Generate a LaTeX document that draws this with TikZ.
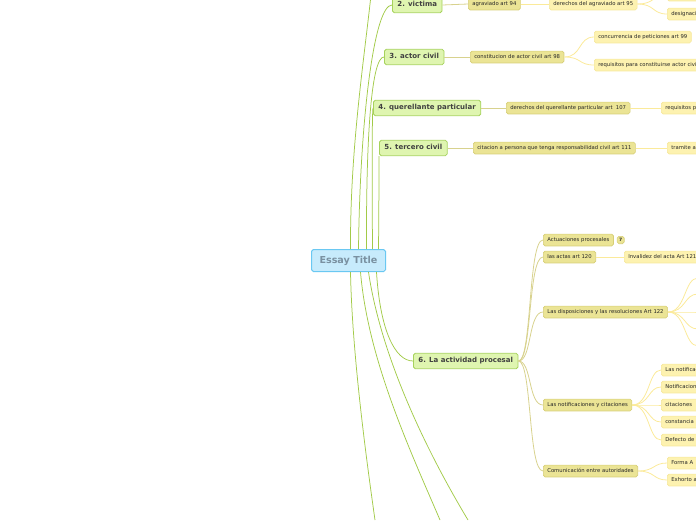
\documentclass[tikz,border=0pt]{standalone}
\usepackage{fontspec}
\setmainfont{DejaVu Sans}
\usetikzlibrary{positioning}
\definecolor{essayfill}{HTML}{C7EBFC}
\definecolor{essayline}{HTML}{6AC8F2}
\definecolor{essaytext}{HTML}{7A91A1}
\definecolor{topicfill}{HTML}{DFF5B0}
\definecolor{topicline}{HTML}{A6D25C}
\definecolor{subfill}{HTML}{EBE495}
\definecolor{subline}{HTML}{D6CE76}
\definecolor{detailfill}{HTML}{FDF2B0}
\definecolor{detailline}{HTML}{F6E79A}
\definecolor{trunkcol}{HTML}{A2CA48}
\definecolor{twigcol}{HTML}{D8D28E}
\definecolor{leafcol}{HTML}{FBEA9A}
\begin{document}
\begin{tikzpicture}[x=1pt, y=-1pt,
  every node/.style={rounded corners=1.8pt, text=black!85},
  essay/.style={draw=essayline, fill=essayfill, line width=1pt, font=\fontsize{9.6}{10}\bfseries, text=essaytext,
    inner xsep=8pt, inner ysep=6.5pt, text height=7pt, text depth=2pt},
  topic/.style={draw=topicline, fill=topicfill, line width=0.8pt, font=\fontsize{7}{8}\bfseries, text=black!75,
    inner xsep=5pt, inner ysep=4.2pt, text height=5.4pt, text depth=1.6pt, anchor=west},
  sub/.style={draw=subline, fill=subfill, line width=0.6pt, font=\fontsize{5.3}{6}\selectfont,
    inner xsep=4pt, inner ysep=3.3pt, text height=4pt, text depth=1.3pt, anchor=west},
  detail/.style={sub, draw=detailline, fill=detailfill},
  cut/.style={detail, text width=70pt, align=left},
  trunk/.style={draw=trunkcol, line width=0.75pt},
  twig/.style={draw=twigcol, line width=0.8pt},
  leaf/.style={draw=leafcol, line width=0.8pt}]
\useasboundingbox (0,0) rectangle (696,520);
\clip (0,0) rectangle (696,520);

% main topics
\node[essay] (essay) at (348.5,260.5) {Essay Title};
\node[topic] (victima) at (392,5) {2. victima};
\node[topic] (actor) at (384,57) {3. actor civil};
\node[topic] (querellante) at (373,108) {4. querellante particular};
\node[topic] (tercero) at (379,148) {5. tercero civil};
\node[topic] (actividad) at (413,361) {6. La actividad procesal};
\coordinate (top1) at (371,-5);
\coordinate (bot7) at (375,520);
\coordinate (bot8) at (440,520);
\coordinate (bot9) at (468,520);

\draw[trunk] ([xshift=2pt]essay.north) .. controls (350,150) and (364,60) .. (top1);
\draw[trunk] ([xshift=10pt]essay.north) .. controls (360,120) and (374,5) .. (victima.west);
\draw[trunk] ([xshift=18pt]essay.north) .. controls (366,130) and (372,57) .. (actor.west);
\draw[trunk] ([xshift=24pt]essay.north) .. controls (372,180) and (372,112) .. (querellante.west);
\draw[trunk] ([xshift=30pt]essay.north) .. controls (379,200) and (379,160) .. (tercero.south west);
\draw[trunk] ([xshift=28pt]essay.south) .. controls (380,330) and (395,361) .. (actividad.west);
\draw[trunk] ([xshift=2pt]essay.south) .. controls (352,350) and (365,450) .. (bot7);
\draw[trunk] ([xshift=12pt]essay.south) .. controls (368,360) and (410,450) .. (bot8);
\draw[trunk] ([xshift=20pt]essay.south) .. controls (380,350) and (420,440) .. (bot9);

% 2. victima
\node[sub] (agraviado) at (468,4) {agraviado art 94};
\node[detail] (dagraviado) at (549,4) {derechos del agraviado art 95};
\node[cut] (dagr1) at (667,-5) {};
\node[cut] (dagr2) at (667,14) {designaci};
\draw[twig] (victima.east) -- (agraviado.west);
\draw[leaf] (agraviado.east) -- (dagraviado.west);
\draw[leaf] (dagraviado.east) .. controls (655,4) and (652,-5) .. (dagr1.west);
\draw[leaf] (dagraviado.east) .. controls (655,4) and (652,14) .. (dagr2.west);

% 3. actor civil
\node[sub] (constitucion) at (470,57) {constitucion de actor civil art 98};
\node[detail] (concurrencia) at (594,37) {concurrencia de peticiones art 99};
\node[detail] (requisitos) at (594,65) {requisitos para constituirse actor civil};
\draw[twig] (actor.east) -- (constitucion.west);
\draw[leaf] (constitucion.east) .. controls (582,57) and (578,37) .. (concurrencia.west);
\draw[leaf] (constitucion.east) .. controls (582,57) and (578,65) .. (requisitos.west);

% 4. querellante particular
\node[sub] (dquerellante) at (506,108) {derechos del querellante particular art~~107};
\node[cut] (reqquer) at (661,108) {requisitos p};
\draw[twig] (querellante.east) -- (dquerellante.west);
\draw[leaf] (dquerellante.east) -- (reqquer.west);

% 5. tercero civil
\node[sub] (citacion) at (473,148) {citacion a persona que tenga responsabilidad civil art 111};
\node[cut] (tramite) at (667,148) {tramite a};
\draw[twig] (tercero.east) -- (citacion.west);
\draw[leaf] (citacion.east) -- (tramite.west);

% 6. La actividad procesal
\node[sub] (actuaciones) at (543,240) {Actuaciones procesales};
\node[sub, right=3pt of actuaciones, inner xsep=2pt, inner ysep=2pt, text height=3.4pt, text depth=0pt, font=\fontsize{4.5}{5}\bfseries] (marker) {7};
\node[sub] (actas) at (543,257) {las actas art 120};
\node[detail] (invalidez) at (624,257) {Invalidez del acta Art 121};
\node[sub] (disposiciones) at (543,312) {Las disposiciones y las resoluciones Art 122};
\node[sub] (notificaciones) at (543,405) {Las notificaciones y citaciones};
\node[sub] (comunicacion) at (543,471) {Comunicación entre autoridades};
\foreach \n in {actuaciones,actas,disposiciones,notificaciones,comunicacion}
  \draw[twig] (actividad.east) .. controls (532,361) and (528,0 |- \n.west) .. (\n.west);
\draw[leaf] (actas.east) -- (invalidez.west);

\foreach \i/\y in {1/278,2/294,3/312,4/329,5/346}
  \coordinate (disp\i) at (698,\y);
\foreach \i in {1,...,5}
  \draw[leaf] (disposiciones.east) .. controls (686,312) and (684,0 |- disp\i) .. (disp\i);

\node[cut] (notif1) at (661,370) {Las notificaciones};
\node[cut] (notif2) at (661,387) {Notificaciones};
\node[cut] (notif3) at (661,405) {citaciones};
\node[cut] (notif4) at (661,422) {constancia};
\node[cut] (notif5) at (661,440) {Defecto de};
\foreach \i in {1,...,5}
  \draw[leaf] (notificaciones.east) .. controls (650,405) and (648,0 |- notif\i.west) .. (notif\i.west);

\node[cut] (forma) at (667,463) {Forma A};
\node[cut] (exhorto) at (667,480) {Exhorto a};
\draw[leaf] (comunicacion.east) .. controls (655,471) and (653,463) .. (forma.west);
\draw[leaf] (comunicacion.east) .. controls (655,471) and (653,480) .. (exhorto.west);
\end{tikzpicture}
\end{document}
